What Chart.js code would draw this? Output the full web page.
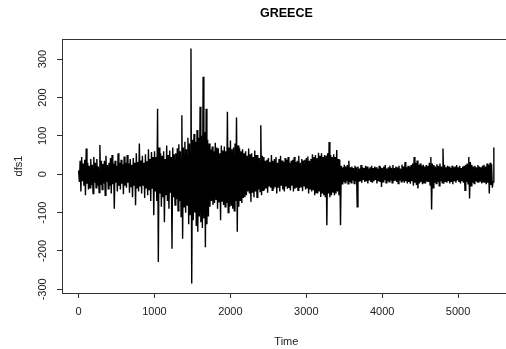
<!DOCTYPE html>
<html>
<head>
<meta charset="utf-8">
<title>GREECE</title>
<script src="https://cdn.jsdelivr.net/npm/chart.js@4.4.1/dist/chart.umd.min.js"></script>
<style>
  html, body { margin: 0; padding: 0; background: #fff; overflow: hidden; }
  #wrap { width: 506px; height: 349px; overflow: hidden; }
  canvas { display: block; }
</style>
</head>
<body>
<div id="wrap"><canvas id="c" width="520" height="349"></canvas></div>
<script>
// Time index of the first sample and the spacing between stored samples
const timeStart = 1;
const timeStep = 10;

// Differenced series dfs1 (successive local highs and lows of the trace)
const dfs1 = [
  // 1 - 991
  10, -20, 35, -45, 45, -18, 28, -30, 38, -55,
  67, -25, 30, -40, 22, -35, 40, -28, 25, -50,
  45, -22, 30, -35, 40, -30, 20, -48, 76, -28,
  35, -40, 27, -24, 35, -55, 48, -20, 24, -38,
  30, -30, 42, -50, 50, -26, 28, -90, 35, -22,
  22, -45, 55, -30, 30, -40, 38, -25, 26, -52,
  46, -30, 30, -35, 50, -22, 28, -48, 40, -32,
  25, -60, 42, -28, 30, -81, 55, -35, 32, -45,
  80, -30, 36, -50, 48, -28, 30, -62, 52, -35,
  34, -55, 65, -40, 40, -70, 58, -38, 45, -107,
  // 1001 - 2191
  60, -45, 45, -70, 171, -229, 70, -50, 55, -85,
  48, -60, 60, -125, 40, -55, 75, -70, 50, -90,
  62, -48, 45, -194, 70, -60, 52, -80, 55, -65,
  68, -95, 78, -70, 60, -110, 154, -168, 70, -85,
  85, -100, 65, -80, 95, -130, 80, -105, 328, -285,
  90, -120, 105, -100, 85, -135, 115, -150, 95, -110,
  176, -125, 100, -140, 254, -115, 110, -190, 171, -130,
  90, -110, 80, -85, 65, -70, 72, -80, 60, -75,
  82, -65, 70, -90, 68, -72, 55, -120, 75, -70,
  62, -80, 72, -85, 60, -75, 163, -100, 70, -85,
  88, -80, 65, -90, 70, -95, 80, -70, 148, -150,
  75, -85, 68, -70, 60, -75, 65, -62, 55, -60,
  // 2201 - 3451
  60, -55, 48, -45, 67, -50, 52, -72, 55, -48,
  45, -60, 62, -45, 50, -60, 50, -40, 42, -45,
  128, -55, 48, -42, 45, -40, 35, -35, 38, -48,
  42, -30, 32, -35, 50, -42, 35, -38, 40, -32,
  45, -50, 30, -35, 40, -45, 48, -30, 36, -40,
  32, -45, 42, -32, 38, -38, 45, -36, 30, -42,
  35, -30, 38, -45, 45, -38, 32, -35, 35, -42,
  48, -36, 30, -33, 40, -44, 36, -30, 38, -40,
  42, -35, 46, -50, 35, -38, 40, -45, 52, -40,
  45, -55, 50, -48, 42, -50, 56, -45, 48, -59,
  55, -50, 45, -55, 50, -60, 48, -133, 55, -50,
  84, -60, 50, -55, 45, -48, 52, -55, 45, -50,
  63, -45, 40, -55, 38, -133,
  // 3461 - 5471
  22, -25, 18, -20, 25, -22, 20, -18, 24, -25,
  35, -20, 18, -22, 20, -16, 16, -24, 22, -18,
  18, -85, 20, -20, 15, -18, 24, -22, 18, -15,
  16, -20, 22, -18, 20, -24, 15, -16, 18, -20,
  22, -22, 16, -18, 20, -15, 18, -24, 14, -18,
  22, -20, 18, -33, 16, -20, 20, -15, 24, -22,
  15, -18, 18, -20, 22, -16, 17, -22, 24, -18,
  16, -15, 20, -20, 18, -24, 22, -16, 15, -20,
  25, -18, 20, -22, 32, -18, 18, -24, 22, -20,
  20, -25, 24, -18, 28, -30, 45, -22, 30, -28,
  36, -37, 25, -24, 28, -20, 22, -26, 25, -22,
  20, -24, 24, -18, 22, -20, 30, -28, 45, -92,
  28, -35, 24, -22, 20, -24, 26, -20, 22, -30,
  28, -18, 20, -22, 67, -25, 25, -20, 18, -22,
  22, -18, 20, -24, 16, -20, 22, -26, 18, -18,
  20, -22, 24, -16, 18, -20, 22, -24, 16, -18,
  20, -22, 22, -42, 25, -20, 28, -25, 45, -63,
  32, -30, 25, -22, 20, -24, 22, -18, 18, -20,
  24, -22, 20, -18, 18, -24, 22, -20, 25, -22,
  20, -26, 28, -22, 25, -50, 30, -28, 26, -35,
  -20, 70
];

// Axis ticks
const timeTicks = [0, 1000, 2000, 3000, 4000, 5000];
const valueTicks = [-300, -200, -100, 0, 100, 200, 300];

// Axis extents (data range widened by 4% on each side)
const timeMin = -218, timeMax = 5693;
const valueMin = -309.5, valueMax = 352.5;

const FONT = '"Liberation Sans", Arial, Helvetica, sans-serif';
const INK = '#222';

const points = dfs1.map((v, i) => ({ x: timeStart + i * timeStep, y: v }));

// Full frame around the plotting region
const frame = {
  id: 'frame',
  afterDatasetsDraw(chart) {
    const a = chart.chartArea, ctx = chart.ctx;
    ctx.save();
    ctx.strokeStyle = '#333';
    ctx.lineWidth = 1;
    ctx.strokeRect(Math.round(a.left) + 0.5, Math.round(a.top) + 0.5,
                   Math.round(a.right - a.left), Math.round(a.bottom - a.top));
    ctx.restore();
  }
};

// Value labels written sideways along the left axis
const sideLabels = {
  id: 'sideLabels',
  afterDraw(chart) {
    const s = chart.scales.y, ctx = chart.ctx;
    ctx.save();
    ctx.fillStyle = INK;
    ctx.font = '11px ' + FONT;
    ctx.textAlign = 'center';
    ctx.textBaseline = 'middle';
    valueTicks.forEach(v => {
      const y = s.getPixelForValue(v);
      ctx.save();
      ctx.translate(43, y);
      ctx.rotate(-Math.PI / 2);
      ctx.fillText(String(v), 0, 0);
      ctx.restore();
    });
    ctx.restore();
  }
};

new Chart(document.getElementById('c'), {
  type: 'line',
  data: {
    datasets: [{
      label: 'dfs1',
      data: points,
      borderColor: '#000',
      borderWidth: 1.4,
      pointRadius: 0,
      tension: 0,
      fill: false
    }]
  },
  options: {
    responsive: false,
    animation: false,
    devicePixelRatio: 1,
    layout: { padding: { left: 0, right: 9.3, top: 0, bottom: 0 } },
    plugins: {
      legend: { display: false },
      tooltip: { enabled: false },
      title: {
        display: true,
        text: 'GREECE',
        fullSize: false,
        color: '#000',
        font: { family: FONT, size: 12.5, weight: 'bold' },
        padding: { top: 5.8, bottom: 18.2 }
      }
    },
    scales: {
      x: {
        type: 'linear',
        min: timeMin,
        max: timeMax,
        afterBuildTicks: s => { s.ticks = timeTicks.map(v => ({ value: v })); },
        afterFit: s => { s.height = 56; },
        grid: { display: true, drawOnChartArea: false, drawTicks: true, tickLength: 5, color: '#333' },
        border: { display: true, color: '#333' },
        ticks: {
          color: INK,
          font: { family: FONT, size: 11 },
          padding: 7.7,
          maxRotation: 0,
          autoSkip: false,
          callback: v => String(v)
        },
        title: {
          display: true,
          text: 'Time',
          color: INK,
          font: { family: FONT, size: 11 },
          padding: { top: 0, bottom: 0.7 }
        }
      },
      y: {
        type: 'linear',
        min: valueMin,
        max: valueMax,
        afterBuildTicks: s => { s.ticks = valueTicks.map(v => ({ value: v })); },
        afterFit: s => { s.width = 62; },
        grid: { display: true, drawOnChartArea: false, drawTicks: true, tickLength: 5, color: '#333' },
        border: { display: true, color: '#333' },
        ticks: { display: false },
        title: {
          display: true,
          text: 'dfs1',
          color: INK,
          font: { family: FONT, size: 11 },
          padding: { top: 12.4, bottom: 0 }
        }
      }
    }
  },
  plugins: [frame, sideLabels]
});
</script>
</body>
</html>
